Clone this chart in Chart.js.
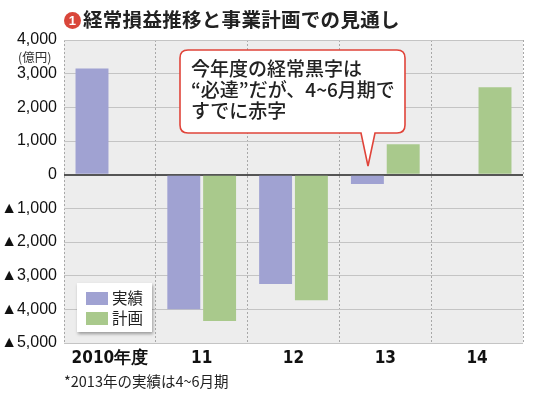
<!DOCTYPE html>
<html>
<head>
<meta charset="utf-8">
<script src="https://cdn.jsdelivr.net/npm/chart.js@4"></script>
<style>
  html, body { margin: 0; padding: 0; background: #fff; }
  #wrap { position: relative; width: 536px; height: 393px; overflow: hidden; font-family: "Noto Sans CJK JP", "Noto Sans", sans-serif; }
  #chart { position: absolute; left: 0; top: 0; }
  .title { position: absolute; left: 64px; top: 4px; font-size: 19.5px; font-weight: bold; color: #222; white-space: nowrap; letter-spacing: 0.3px; }
  .title .num { display: inline-block; width: 17px; height: 17px; border-radius: 50%; background: #d9463a; color: #fff; font-size: 13px; line-height: 17px; text-align: center; vertical-align: 2px; margin-right: 2px; font-family: "Liberation Sans", sans-serif; }
  .unit { position: absolute; left: 18px; top: 47px; font-size: 12.5px; color: #333; }
  .note { position: absolute; left: 64px; top: 370px; font-size: 14.5px; color: #222; white-space: nowrap; }
  .legend { position: absolute; left: 77px; top: 283px; width: 75px; height: 49px; background: #fff; box-shadow: 1px 2px 3px rgba(0,0,0,0.35); }
  .legend div { position: absolute; left: 9px; font-size: 15.5px; color: #222; line-height: 15px; white-space: nowrap; }
  .legend span { display: inline-block; width: 22px; height: 13px; margin-right: 4px; vertical-align: -1px; }
  #callout { position: absolute; left: 0; top: 0; }
  .ctext { position: absolute; left: 191px; top: 57px; font-size: 19px; line-height: 21px; color: #222; font-weight: 500; white-space: nowrap; }
</style>
</head>
<body>
<div id="wrap">
  <canvas id="chart" width="536" height="393"></canvas>
  <div class="title"><span class="num">1</span>経常損益推移と事業計画での見通し</div>
  <div class="unit">(億円)</div>
  <div class="legend">
    <div style="top:7px"><span style="background:#a0a2d2"></span>実績</div>
    <div style="top:27px"><span style="background:#a9c98c"></span>計画</div>
  </div>
  <svg id="callout" width="536" height="393">
    <path d="M188,50 H397 Q405,50 405,58 V125 Q405,133 397,133 H375 L368,166 L361,133 H188 Q180,133 180,125 V58 Q180,50 188,50 Z" fill="#fff" stroke="#e0443a" stroke-width="1.6"/>
  </svg>
  <div class="ctext">今年度の経常黒字は<br>“必達”だが、4~6月期で<br>すでに赤字</div>
  <div class="note">*2013年の実績は4~6月期</div>
</div>
<script>
const categories = ['2010年度', '11', '12', '13', '14'];
const actual = [3150, -4000, -3250, -280, null];
const plan = [null, -4350, -3730, 900, 2600];
const yMin = -5000;
const yMax = 4000;

function fmtTick(v) {
  const s = Math.abs(v).toLocaleString('en-US');
  return v < 0 ? '▲' + s : s;
}

const plotBg = {
  id: 'plotBg',
  beforeDraw(chart) {
    const { ctx, chartArea: a } = chart;
    ctx.save();
    ctx.fillStyle = '#ededed';
    ctx.fillRect(a.left, a.top, a.right - a.left, a.bottom - a.top);
    ctx.restore();
  }
};

new Chart(document.getElementById('chart'), {
  type: 'bar',
  data: {
    labels: categories,
    datasets: [
      { label: '実績', data: actual, backgroundColor: '#a0a2d2', categoryPercentage: 0.78, barPercentage: 0.92 },
      { label: '計画', data: plan, backgroundColor: '#a9c98c', categoryPercentage: 0.78, barPercentage: 0.92 }
    ]
  },
  options: {
    responsive: false,
    animation: false,
    layout: { padding: { top: 40, right: 13, left: 0, bottom: 0 } },
    plugins: { legend: { display: false }, tooltip: { enabled: false } },
    scales: {
      x: {
        grid: { color: '#a8a8a8', lineWidth: 1, drawTicks: false },
        border: { display: false, dash: [2, 2] },
        ticks: {
          color: '#111',
          padding: 5,
          font: { family: '"DejaVu Sans Condensed", sans-serif', size: 17, weight: 'bold' }
        },
        afterFit(scale) { scale.height = 50; }
      },
      y: {
        min: yMin,
        max: yMax,
        ticks: {
          stepSize: 1000,
          color: '#111',
          padding: 7,
          font: { family: '"Liberation Sans", Arial, sans-serif', size: 16 },
          callback: fmtTick
        },
        grid: {
          drawTicks: false,
          color: c => c.tick && c.tick.value === 0 ? '#555' : '#c4c4c4',
          lineWidth: c => c.tick && c.tick.value === 0 ? 2 : 1
        },
        border: { display: false },
        afterFit(scale) { scale.width = 64; }
      }
    }
  },
  plugins: [plotBg]
});
</script>
</body>
</html>
